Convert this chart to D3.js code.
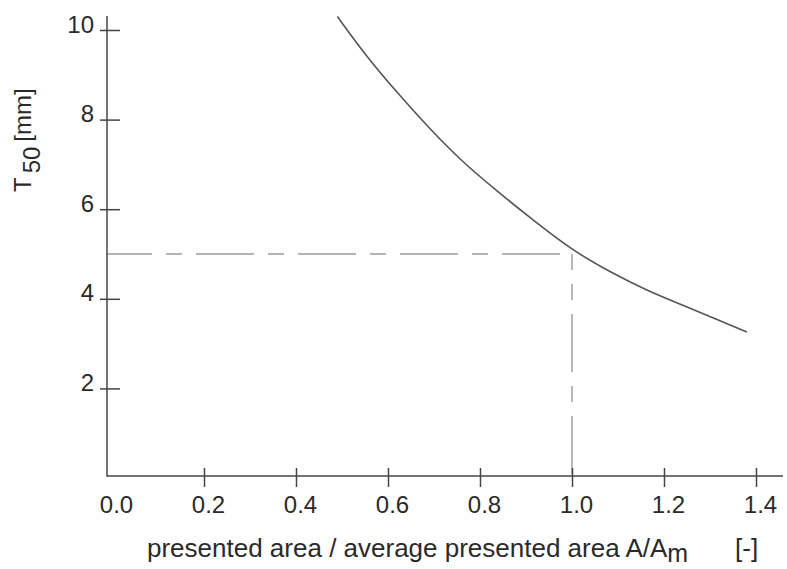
<!DOCTYPE html>
<html>
<head>
<meta charset="utf-8">
<script src="https://cdnjs.cloudflare.com/ajax/libs/d3/7.8.5/d3.min.js"></script>
<style>
  body { margin: 0; background: #fff; }
  text { font-family: "Liberation Sans", Arial, sans-serif; fill: #2a2a2a; }
</style>
</head>
<body>
<div id="chart"></div>
<script>
// values
var ratio = [0.49, 0.55, 0.62, 0.69, 0.76, 0.84, 0.91, 1.0, 1.09, 1.16, 1.24, 1.31, 1.38];
var t50 = [10.3, 9.45, 8.6, 7.8, 7.07, 6.38, 5.8, 5.08, 4.56, 4.2, 3.86, 3.56, 3.26];
var xTicks = [0.0, 0.2, 0.4, 0.6, 0.8, 1.0, 1.2, 1.4];
var yTicks = [2, 4, 6, 8, 10];
var refPoint = [1.0, 5.0]; // dashed guide lines

var width = 787;
var height = 569;
var svg = d3.select("#chart")
    .append("svg")
    .attr("width", width)
    .attr("height", height);

var x = d3.scaleLinear().domain([0, 1.4]).range([112, 756]);
var y = d3.scaleLinear().domain([0, 10]).range([478, 30]);
var axisX = 107;   // where the y axis stands
var axisY = 476;   // where the x axis lies

// dashed guide lines
svg.append("line")
    .attr("x1", axisX).attr("x2", x(refPoint[0]))
    .attr("y1", y(refPoint[1])).attr("y2", y(refPoint[1]))
    .attr("stroke", "#9a9a9a").attr("stroke-width", 1.4)
    .attr("stroke-dasharray", "58,14,16,14").attr("stroke-dashoffset", 13);
svg.append("line")
    .attr("x1", x(refPoint[0])).attr("x2", x(refPoint[0]))
    .attr("y1", y(refPoint[1])).attr("y2", axisY)
    .attr("stroke", "#9a9a9a").attr("stroke-width", 1.4)
    .attr("stroke-dasharray", "58,14,16,14").attr("stroke-dashoffset", 42);

// x axis
var gx = svg.append("g")
    .attr("transform", "translate(0," + axisY + ")")
    .call(d3.axisBottom(x).tickValues(xTicks).tickFormat(d3.format(".1f")).tickSize(11));
gx.select(".domain").remove();
gx.selectAll(".tick line")
    .attr("y1", -8).attr("y2", 11)
    .attr("stroke", "#444").attr("stroke-width", 1.5)
    .attr("display", function (d) { return d === 0 ? "none" : null; });
gx.selectAll(".tick text")
    .attr("y", 37).attr("dy", 0).attr("dx", 4)
    .attr("font-size", 24).attr("font-family", null);
svg.append("line")
    .attr("x1", axisX).attr("x2", 783)
    .attr("y1", axisY).attr("y2", axisY)
    .attr("stroke", "#444").attr("stroke-width", 1.5);

// y axis
var gy = svg.append("g")
    .attr("transform", "translate(" + axisX + ",0)")
    .call(d3.axisLeft(y).tickValues(yTicks).tickFormat(d3.format("d")).tickSize(7));
gy.select(".domain").remove();
gy.selectAll(".tick line")
    .attr("x1", 13).attr("x2", -7)
    .attr("stroke", "#444").attr("stroke-width", 1.5);
gy.selectAll(".tick text")
    .attr("x", -13).attr("dy", 2)
    .attr("font-size", 24).attr("font-family", null);
svg.append("line")
    .attr("x1", axisX).attr("x2", axisX)
    .attr("y1", 16).attr("y2", axisY + 0.75)
    .attr("stroke", "#444").attr("stroke-width", 1.5);

// the curve (smoothed through the read points)
var line = d3.line()
    .x(function (d, i) { return x(ratio[i]); })
    .y(function (d) { return y(d); })
    .curve(d3.curveBasis);
svg.append("path")
    .datum(t50)
    .attr("fill", "none")
    .attr("stroke", "#555")
    .attr("stroke-width", 1.6)
    .attr("d", line);

// axis titles
var xt = svg.append("text")
    .attr("x", 147).attr("y", 557)
    .attr("font-size", 26);
xt.append("tspan").text("presented area / average presented area A/A");
xt.append("tspan").attr("dy", 5).attr("font-size", 25).text("m");
svg.append("text")
    .attr("x", 735).attr("y", 557)
    .attr("font-size", 26)
    .text("[-]");

var yt = svg.append("text")
    .attr("transform", "translate(31,192) rotate(-90)")
    .attr("font-size", 24);
yt.append("tspan").text("T");
yt.append("tspan").attr("dy", 9).attr("dx", 4).text("50");
yt.append("tspan").attr("dy", -9).attr("dx", 5).text("[mm]");
</script>
</body>
</html>
